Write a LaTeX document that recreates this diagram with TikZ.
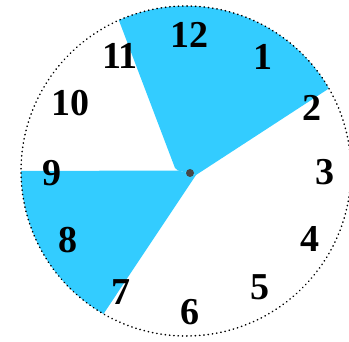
\documentclass[tikz,border=0pt]{standalone}
\usepackage{fontspec}
\setmainfont{Liberation Serif}
\usetikzlibrary{calc}
\definecolor{skyb}{RGB}{51,204,255}
\definecolor{dotgray}{RGB}{70,70,70}
\begin{document}
\begin{tikzpicture}[
  num/.style={inner sep=0pt, font=\bfseries\fontsize{38}{38}\selectfont},
  rim/.style={draw=black, line width=1.6pt, line cap=round, dash pattern=on 0.3pt off 4pt},
  sector/.style={fill=skyb, draw=none}
]
\useasboundingbox (0pt,0pt) rectangle (349pt,341pt);
\coordinate (O) at (186pt,170pt);
% sectors
\fill[sector] (196pt,166pt) -- ($(O)+(30:165pt)$) arc[start angle=30, end angle=114, radius=165pt] -- (175pt,173pt) -- (178pt,170.5pt) -- cycle;
\fill[sector] (196pt,166pt) -- (178pt,170.5pt) -- ($(O)+(180:165pt)$) arc[start angle=180, end angle=240, radius=165pt] -- cycle;
% rim
\draw[rim] (O) circle[radius=165pt];
% numbers
\node[num] (n12) at (190pt,306pt) {12};
\node[num] (n1) at (263pt,284pt) {1};
\node[num] (n2) at (312pt,233pt) {2};
\node[num] (n3) at (325pt,169pt) {3};
\node[num] (n4) at (310pt,102pt) {4};
\node[num] (n5) at (260pt,54pt) {5};
\node[num] (n6) at (190pt,29pt) {6};
\node[num] (n7) at (121pt,49pt) {7};
\node[num] (n8) at (68pt,101pt) {8};
\node[num] (n9) at (52pt,168pt) {9};
\node[num] (n10) at (71pt,238pt) {10};
\node[num] (n11) at (120pt,285pt) {11};
% centre dot
\fill[dotgray] (190pt,168pt) circle[radius=4pt];
\end{tikzpicture}
\end{document}
